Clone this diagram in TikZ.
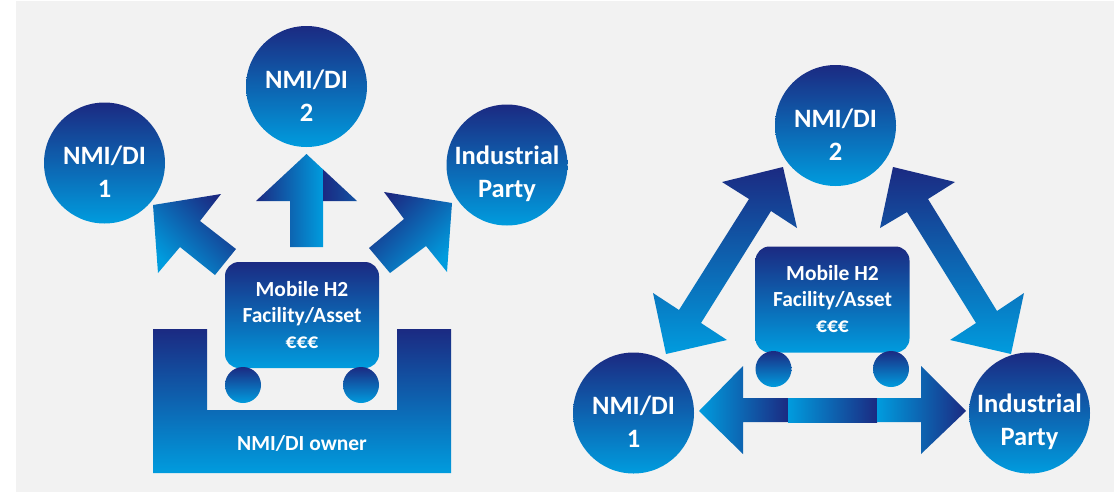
\documentclass[tikz,border=0pt]{standalone}
\usepackage{fontspec}
\setmainfont{Carlito}
\definecolor{dk}{RGB}{27,42,130}
\definecolor{lt}{RGB}{0,156,222}
\definecolor{bg}{RGB}{242,242,242}
\tikzset{
  vgrad/.style={top color=dk, bottom color=lt, draw=none},
  bubble/.style={circle, minimum size=121pt, inner sep=0pt, vgrad},
  wheel/.style={circle, minimum size=36pt, inner sep=0pt, vgrad},
  cart/.style={rectangle, rounded corners=14pt, minimum width=154pt, minimum height=106pt, inner sep=0pt, vgrad,
    text=white, align=center, font=\fontsize{21.5}{26}\selectfont\bfseries},
  bigtxt/.style={text=white, align=center, inner sep=0pt, font=\fontsize{26.5}{33}\selectfont\bfseries},
  smalltxt/.style={text=white, align=center, inner sep=0pt, font=\fontsize{21.5}{26}\selectfont\bfseries}
}
\begin{document}
\begin{tikzpicture}[x=1pt,y=-1pt]
\useasboundingbox (0,0) rectangle (1114,493);
\fill[white] (0,0) rectangle (1114,493);
\fill[bg] (16,1) rectangle (1114,492);

% ---------------- left diagram ----------------
\node[bubble] (a1) at (104.5,163) {};
\node[bubble] (a2) at (306.5,86.5) {};
\node[bubble] (a3) at (507,165) {};
\node[bigtxt] (ta1) at ([yshift=-9pt]a1.center) {NMI/DI\\1};
\node[bigtxt] (ta2) at ([yshift=-9pt]a2.center) {NMI/DI\\2};
\node[bigtxt] (ta3) at ([yshift=-9pt]a3.center) {Industrial\\Party};

% owner U shape
\shade[vgrad] (153,329) -- (207,329) -- (207,410) -- (397,410) -- (397,329) -- (451,329) -- (451,473) -- (153,473) -- cycle;
\node[smalltxt] (own) at (302,443) {NMI/DI owner};

% cart
\node[cart] (c1) at (302,315) {Mobile H2\\Facility/Asset\\€€€};
\node[wheel] (w1) at (243,385) {};
\node[wheel] (w2) at (361,385) {};

% arrows
\shade[top color=dk, bottom color=lt, shading angle=-45] (153,205) -- (221,194) -- (200,221) -- (236,249) -- (215,275) -- (180,247) -- (158,273) -- cycle;
\shade[top color=dk, bottom color=lt, shading angle=45] (384,192) -- (452,203) -- (447,272) -- (426,246) -- (390,273) -- (369,248) -- (404,219) -- cycle;
\shade[left color=dk, right color=lt] (306.5,154) -- (323,169.4) -- (323,247) -- (290,247) -- (290,201) -- (256,201) -- cycle;
\shade[left color=dk, right color=dk!65!lt] (323,169.4) -- (357,201) -- (323,201) -- cycle;

% ---------------- right diagram ----------------
\node[bubble] (b2) at (835.5,125.5) {};
\node[bubble] (b1) at (633.5,413) {};
\node[bubble] (b3) at (1029.5,413) {};
\node[bigtxt] (tb2) at ([yshift=-9pt]b2.center) {NMI/DI\\2};
\node[bigtxt] (tb1) at ([yshift=-9pt]b1.center) {NMI/DI\\1};
\node[bigtxt] (tb3) at ([yshift=-9pt]b3.center) {Industrial\\Party};

\node[cart] (c2) at (832.5,299.5) {Mobile H2\\Facility/Asset\\€€€};
\node[wheel] (w3) at (773.5,369) {};
\node[wheel] (w4) at (891,369) {};

% diagonal double arrows
\shade[vgrad] (783,167) -- (797,228) -- (771,211) -- (701,323) -- (727,340) -- (666,354) -- (653,293) -- (679,310) -- (749,199) -- (722,182) -- cycle;
\shade[vgrad] (893,167) -- (880,228) -- (907,212) -- (976,323) -- (950,340) -- (1011,354) -- (1024,293) -- (997,311) -- (928,199) -- (955,182) -- cycle;

% horizontal double arrow
\shade[left color=lt, right color=dk] (699,411) -- (743,366) -- (743,398) -- (788,398) -- (788,422) -- (743,422) -- (743,454) -- cycle;
\shade[left color=lt, right color=dk] (788,398) rectangle (877,422);
\shade[left color=lt, right color=dk] (877,398) -- (921,398) -- (921,366) -- (966,411) -- (921,454) -- (921,422) -- (877,422) -- cycle;
\end{tikzpicture}
\end{document}
